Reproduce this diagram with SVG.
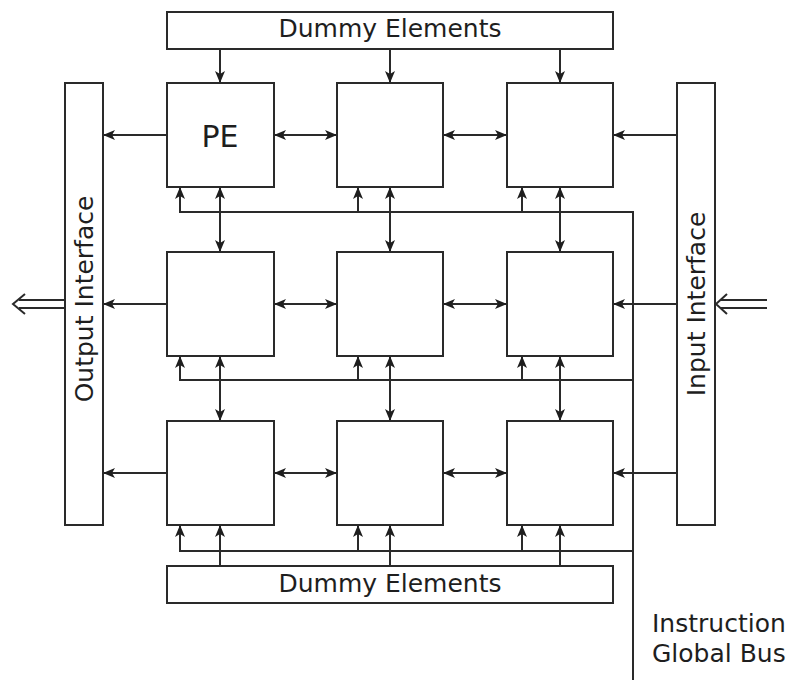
<svg xmlns="http://www.w3.org/2000/svg" width="790" height="680" viewBox="0 0 790 680">
  <style>
    .box { fill: #fff; stroke: #2a2a2a; stroke-width: 2; }
    .wire { fill: none; stroke: #2a2a2a; stroke-width: 2; }
    .a1 { marker-end: url(#head); }
    .a2 { marker-start: url(#headR); marker-end: url(#head); }
    .lbl { font-family: "DejaVu Sans", "Liberation Sans", sans-serif; font-size: 25px; fill: #1e1e1e; }
  </style>
  <defs>
    <marker id="head" viewBox="0 0 12 10" markerWidth="12" markerHeight="10" refX="12" refY="5" orient="auto" markerUnits="userSpaceOnUse">
      <path d="M0,0 L12,5 L0,10 L3,5 Z" fill="#1e1e1e"/>
    </marker>
    <marker id="headR" viewBox="0 0 12 10" markerWidth="12" markerHeight="10" refX="0" refY="5" orient="auto" markerUnits="userSpaceOnUse">
      <path d="M12,0 L0,5 L12,10 L9,5 Z" fill="#1e1e1e"/>
    </marker>
  </defs>
  <rect width="790" height="680" fill="#fff"/>

  <!-- Connectors -->
  <g id="connectors">
    <!-- dummy elements (top) to row 1 -->
    <line class="wire a1" x1="220" y1="49" x2="220" y2="83"/>
    <line class="wire a1" x1="390" y1="49" x2="390" y2="83"/>
    <line class="wire a1" x1="560" y1="49" x2="560" y2="83"/>
    <!-- dummy elements (bottom) to row 3 -->
    <line class="wire a1" x1="220" y1="566" x2="220" y2="525"/>
    <line class="wire a1" x1="390" y1="566" x2="390" y2="525"/>
    <line class="wire a1" x1="560" y1="566" x2="560" y2="525"/>
    <!-- vertical neighbour links -->
    <line class="wire a2" x1="220" y1="187" x2="220" y2="252"/>
    <line class="wire a2" x1="390" y1="187" x2="390" y2="252"/>
    <line class="wire a2" x1="560" y1="187" x2="560" y2="252"/>
    <line class="wire a2" x1="220" y1="356" x2="220" y2="421"/>
    <line class="wire a2" x1="390" y1="356" x2="390" y2="421"/>
    <line class="wire a2" x1="560" y1="356" x2="560" y2="421"/>
    <!-- horizontal neighbour links -->
    <line class="wire a2" x1="274" y1="135" x2="337" y2="135"/>
    <line class="wire a2" x1="443" y1="135" x2="507" y2="135"/>
    <line class="wire a2" x1="274" y1="304" x2="337" y2="304"/>
    <line class="wire a2" x1="443" y1="304" x2="507" y2="304"/>
    <line class="wire a2" x1="274" y1="473" x2="337" y2="473"/>
    <line class="wire a2" x1="443" y1="473" x2="507" y2="473"/>
    <!-- column 1 to output interface -->
    <line class="wire a1" x1="167" y1="135" x2="103" y2="135"/>
    <line class="wire a1" x1="167" y1="304" x2="103" y2="304"/>
    <line class="wire a1" x1="167" y1="473" x2="103" y2="473"/>
    <!-- input interface to column 3 -->
    <line class="wire a1" x1="677" y1="135" x2="613" y2="135"/>
    <line class="wire a1" x1="677" y1="304" x2="613" y2="304"/>
    <line class="wire a1" x1="677" y1="473" x2="613" y2="473"/>
    <!-- instruction global bus -->
    <polyline class="wire" points="180,212 633,212 633,680"/>
    <line class="wire" x1="180" y1="380" x2="633" y2="380"/>
    <line class="wire" x1="180" y1="551" x2="633" y2="551"/>
    <line class="wire a1" x1="180" y1="213" x2="180" y2="187"/>
    <line class="wire a1" x1="358" y1="212" x2="358" y2="187"/>
    <line class="wire a1" x1="522" y1="212" x2="522" y2="187"/>
    <line class="wire a1" x1="180" y1="381" x2="180" y2="356"/>
    <line class="wire a1" x1="358" y1="380" x2="358" y2="356"/>
    <line class="wire a1" x1="522" y1="380" x2="522" y2="356"/>
    <line class="wire a1" x1="180" y1="552" x2="180" y2="525"/>
    <line class="wire a1" x1="358" y1="551" x2="358" y2="525"/>
    <line class="wire a1" x1="522" y1="551" x2="522" y2="525"/>
    <!-- external data in/out (double arrows) -->
    <path class="wire" d="M65,300 L19,300 M65,308 L19,308 M25,294 L13,304 L25,314"/>
    <path class="wire" d="M767,300 L721,300 M767,308 L721,308 M727,294 L716,304 L727,314"/>
  </g>

  <!-- Dummy element rows -->
  <g id="dummy-top">
    <rect class="box" x="167" y="12" width="446" height="37"/>
    <text class="lbl" x="390" y="37" text-anchor="middle">Dummy Elements</text>
  </g>
  <g id="dummy-bottom">
    <rect class="box" x="167" y="566" width="446" height="37"/>
    <text class="lbl" x="390" y="592" text-anchor="middle">Dummy Elements</text>
  </g>

  <!-- Interfaces -->
  <g id="output-interface">
    <rect class="box" x="65" y="83" width="38" height="442"/>
    <text class="lbl" transform="translate(93,299) rotate(-90)" text-anchor="middle">Output Interface</text>
  </g>
  <g id="input-interface">
    <rect class="box" x="677" y="83" width="38" height="442"/>
    <text class="lbl" transform="translate(705,304) rotate(-90)" text-anchor="middle">Input Interface</text>
  </g>

  <!-- Processing element array -->
  <g id="pe-1-1">
    <rect class="box" x="167" y="83" width="107" height="104"/>
    <text class="lbl" x="220" y="147" text-anchor="middle" style="font-size:30px">PE</text>
  </g>
  <g id="pe-1-2"><rect class="box" x="337" y="83" width="106" height="104"/></g>
  <g id="pe-1-3"><rect class="box" x="507" y="83" width="106" height="104"/></g>
  <g id="pe-2-1"><rect class="box" x="167" y="252" width="107" height="104"/></g>
  <g id="pe-2-2"><rect class="box" x="337" y="252" width="106" height="104"/></g>
  <g id="pe-2-3"><rect class="box" x="507" y="252" width="106" height="104"/></g>
  <g id="pe-3-1"><rect class="box" x="167" y="421" width="107" height="104"/></g>
  <g id="pe-3-2"><rect class="box" x="337" y="421" width="106" height="104"/></g>
  <g id="pe-3-3"><rect class="box" x="507" y="421" width="106" height="104"/></g>

  <!-- Bus label -->
  <g id="bus-label">
    <text class="lbl" x="652" y="632">Instruction</text>
    <text class="lbl" x="652" y="662">Global Bus</text>
  </g>
</svg>
